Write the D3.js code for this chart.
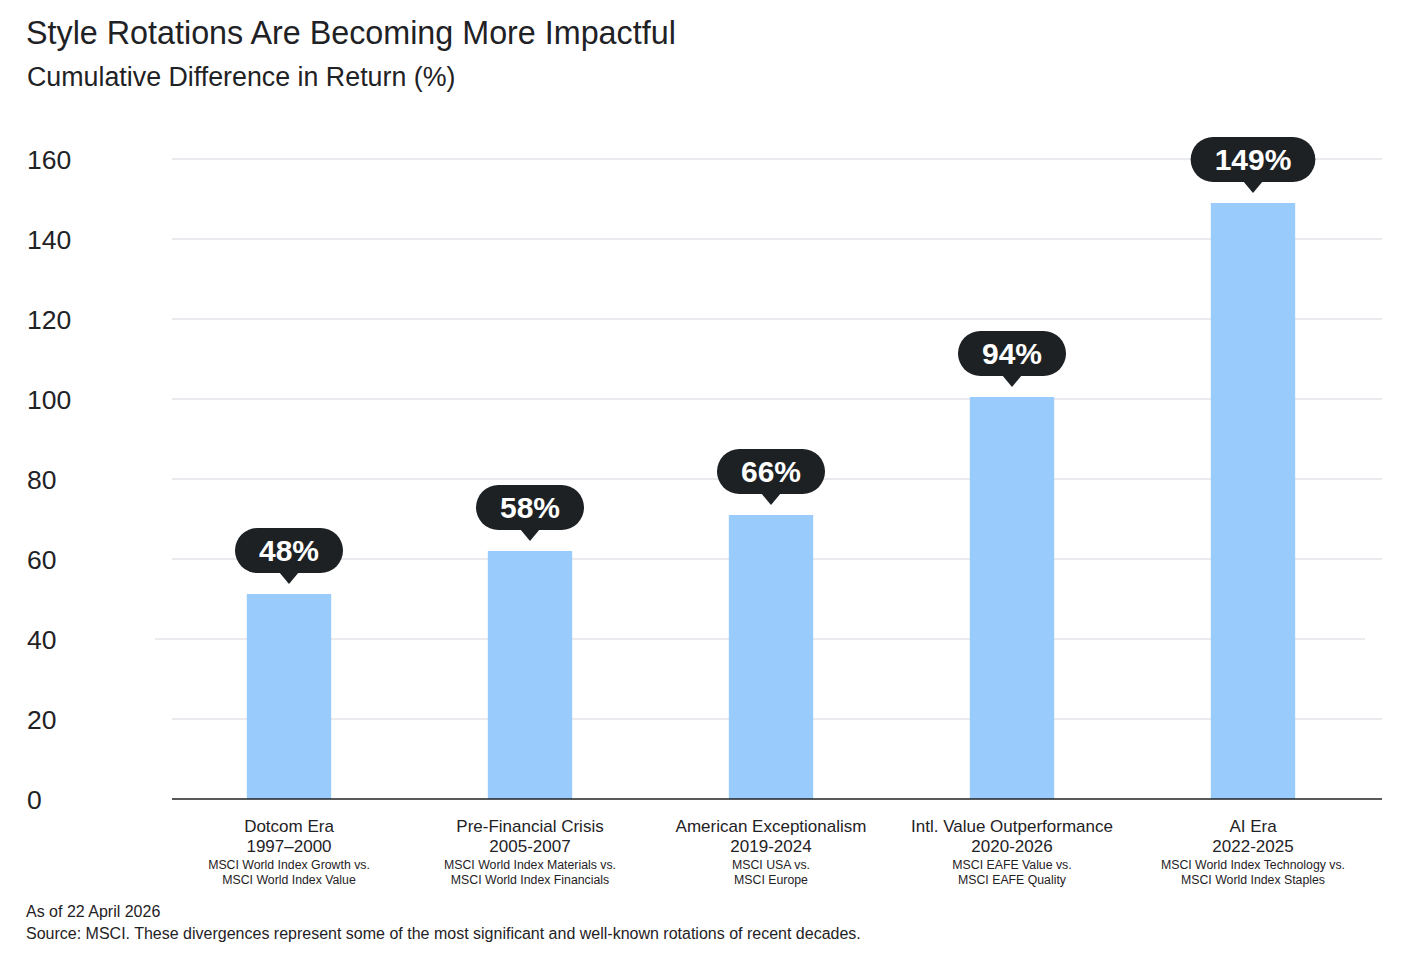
<!DOCTYPE html>
<html><head><meta charset="utf-8">
<script src="https://cdn.jsdelivr.net/npm/d3@7"></script>
<style>body{margin:0;background:#fff;} svg{display:block;font-family:"Liberation Sans",Arial,sans-serif;}</style>
</head><body>
<script>
const categories = ["Dotcom Era","Pre-Financial Crisis","American Exceptionalism","Intl. Value Outperformance","AI Era"];
const periods = ["1997\u20132000","2005-2007","2019-2024","2020-2026","2022-2025"];
const comparisonsA = ["MSCI World Index Growth vs.","MSCI World Index Materials vs.","MSCI USA vs.","MSCI EAFE Value vs.","MSCI World Index Technology vs."];
const comparisonsB = ["MSCI World Index Value","MSCI World Index Financials","MSCI Europe","MSCI EAFE Quality","MSCI World Index Staples"];
const barValues = [51.25, 62, 71, 100.5, 149];
const labelValues = ["48%","58%","66%","94%","149%"];
const yTicks = [0,20,40,60,80,100,120,140,160];

const W=1422,H=957;
const svg=d3.select("body").append("svg").attr("width",W).attr("height",H);
const y=d3.scaleLinear().domain([0,160]).range([799,159]);
const x=d3.scaleBand().domain(categories).range([168.5,1373.5]).paddingInner(0.65).paddingOuter(0.325);

svg.append("text").attr("x",26).attr("y",44).attr("font-size",32.3).attr("fill","#1f2225").text("Style Rotations Are Becoming More Impactful");
svg.append("text").attr("x",27).attr("y",86).attr("font-size",26.8).attr("fill","#1f2225").text("Cumulative Difference in Return (%)");

// gridlines
svg.append("g").selectAll("line").data(yTicks.filter(d=>d>0)).join("line")
  .attr("x1",d=>d===40?155:172).attr("x2",d=>d===40?1365:1382)
  .attr("y1",d=>y(d)).attr("y2",d=>y(d)).attr("stroke","#d3d8de").attr("stroke-width",1.2);

// y labels
svg.append("g").selectAll("text").data(yTicks).join("text")
  .attr("x",27).attr("y",d=>y(d)+9.5).attr("font-size",26.5).attr("fill","#1f2225").text(d=>d);

// bars
svg.append("g").selectAll("rect").data(barValues).join("rect")
  .attr("x",(d,i)=>x(categories[i])).attr("width",x.bandwidth())
  .attr("y",d=>y(d)).attr("height",d=>y(0)-y(d)).attr("fill","#99cbfd");

// baseline
svg.append("line").attr("x1",172).attr("x2",1382).attr("y1",y(0)).attr("y2",y(0)).attr("stroke","#1f2225").attr("stroke-width",1.6);

// bubbles
const bub=svg.append("g").selectAll("g").data(barValues).join("g")
  .attr("transform",(d,i)=>`translate(${x(categories[i])+x.bandwidth()/2},${y(d)})`);
bub.each(function(d,i){
  const g=d3.select(this);
  const t=g.append("text").attr("text-anchor","middle").attr("y",-33).attr("font-size",30).attr("font-weight","bold").attr("fill","#fff").text(labelValues[i]);
  const w=t.node().getComputedTextLength()+48;
  g.insert("rect","text").attr("x",-w/2).attr("y",-66).attr("width",w).attr("height",45).attr("rx",22.5).attr("fill","#1e2124");
  g.insert("path","text").attr("d","M-10,-22 L0,-10 L10,-22 Z").attr("fill","#1e2124");
});

// category labels
const cl=svg.append("g").selectAll("g").data(categories).join("g")
  .attr("transform",d=>`translate(${x(d)+x.bandwidth()/2},0)`).attr("text-anchor","middle").attr("fill","#1f2225");
cl.append("text").attr("y",832).attr("font-size",17).text(d=>d);
cl.append("text").attr("y",852).attr("font-size",17).text((d,i)=>periods[i]);
cl.append("text").attr("y",869).attr("font-size",12.3).text((d,i)=>comparisonsA[i]);
cl.append("text").attr("y",884).attr("font-size",12.3).text((d,i)=>comparisonsB[i]);

svg.append("text").attr("x",26).attr("y",917).attr("font-size",16).attr("fill","#1f2225").text("As of 22 April 2026");
svg.append("text").attr("x",26).attr("y",939).attr("font-size",16).attr("fill","#1f2225").text("Source: MSCI. These divergences represent some of the most significant and well-known rotations of recent decades.");
</script>
</body></html>
